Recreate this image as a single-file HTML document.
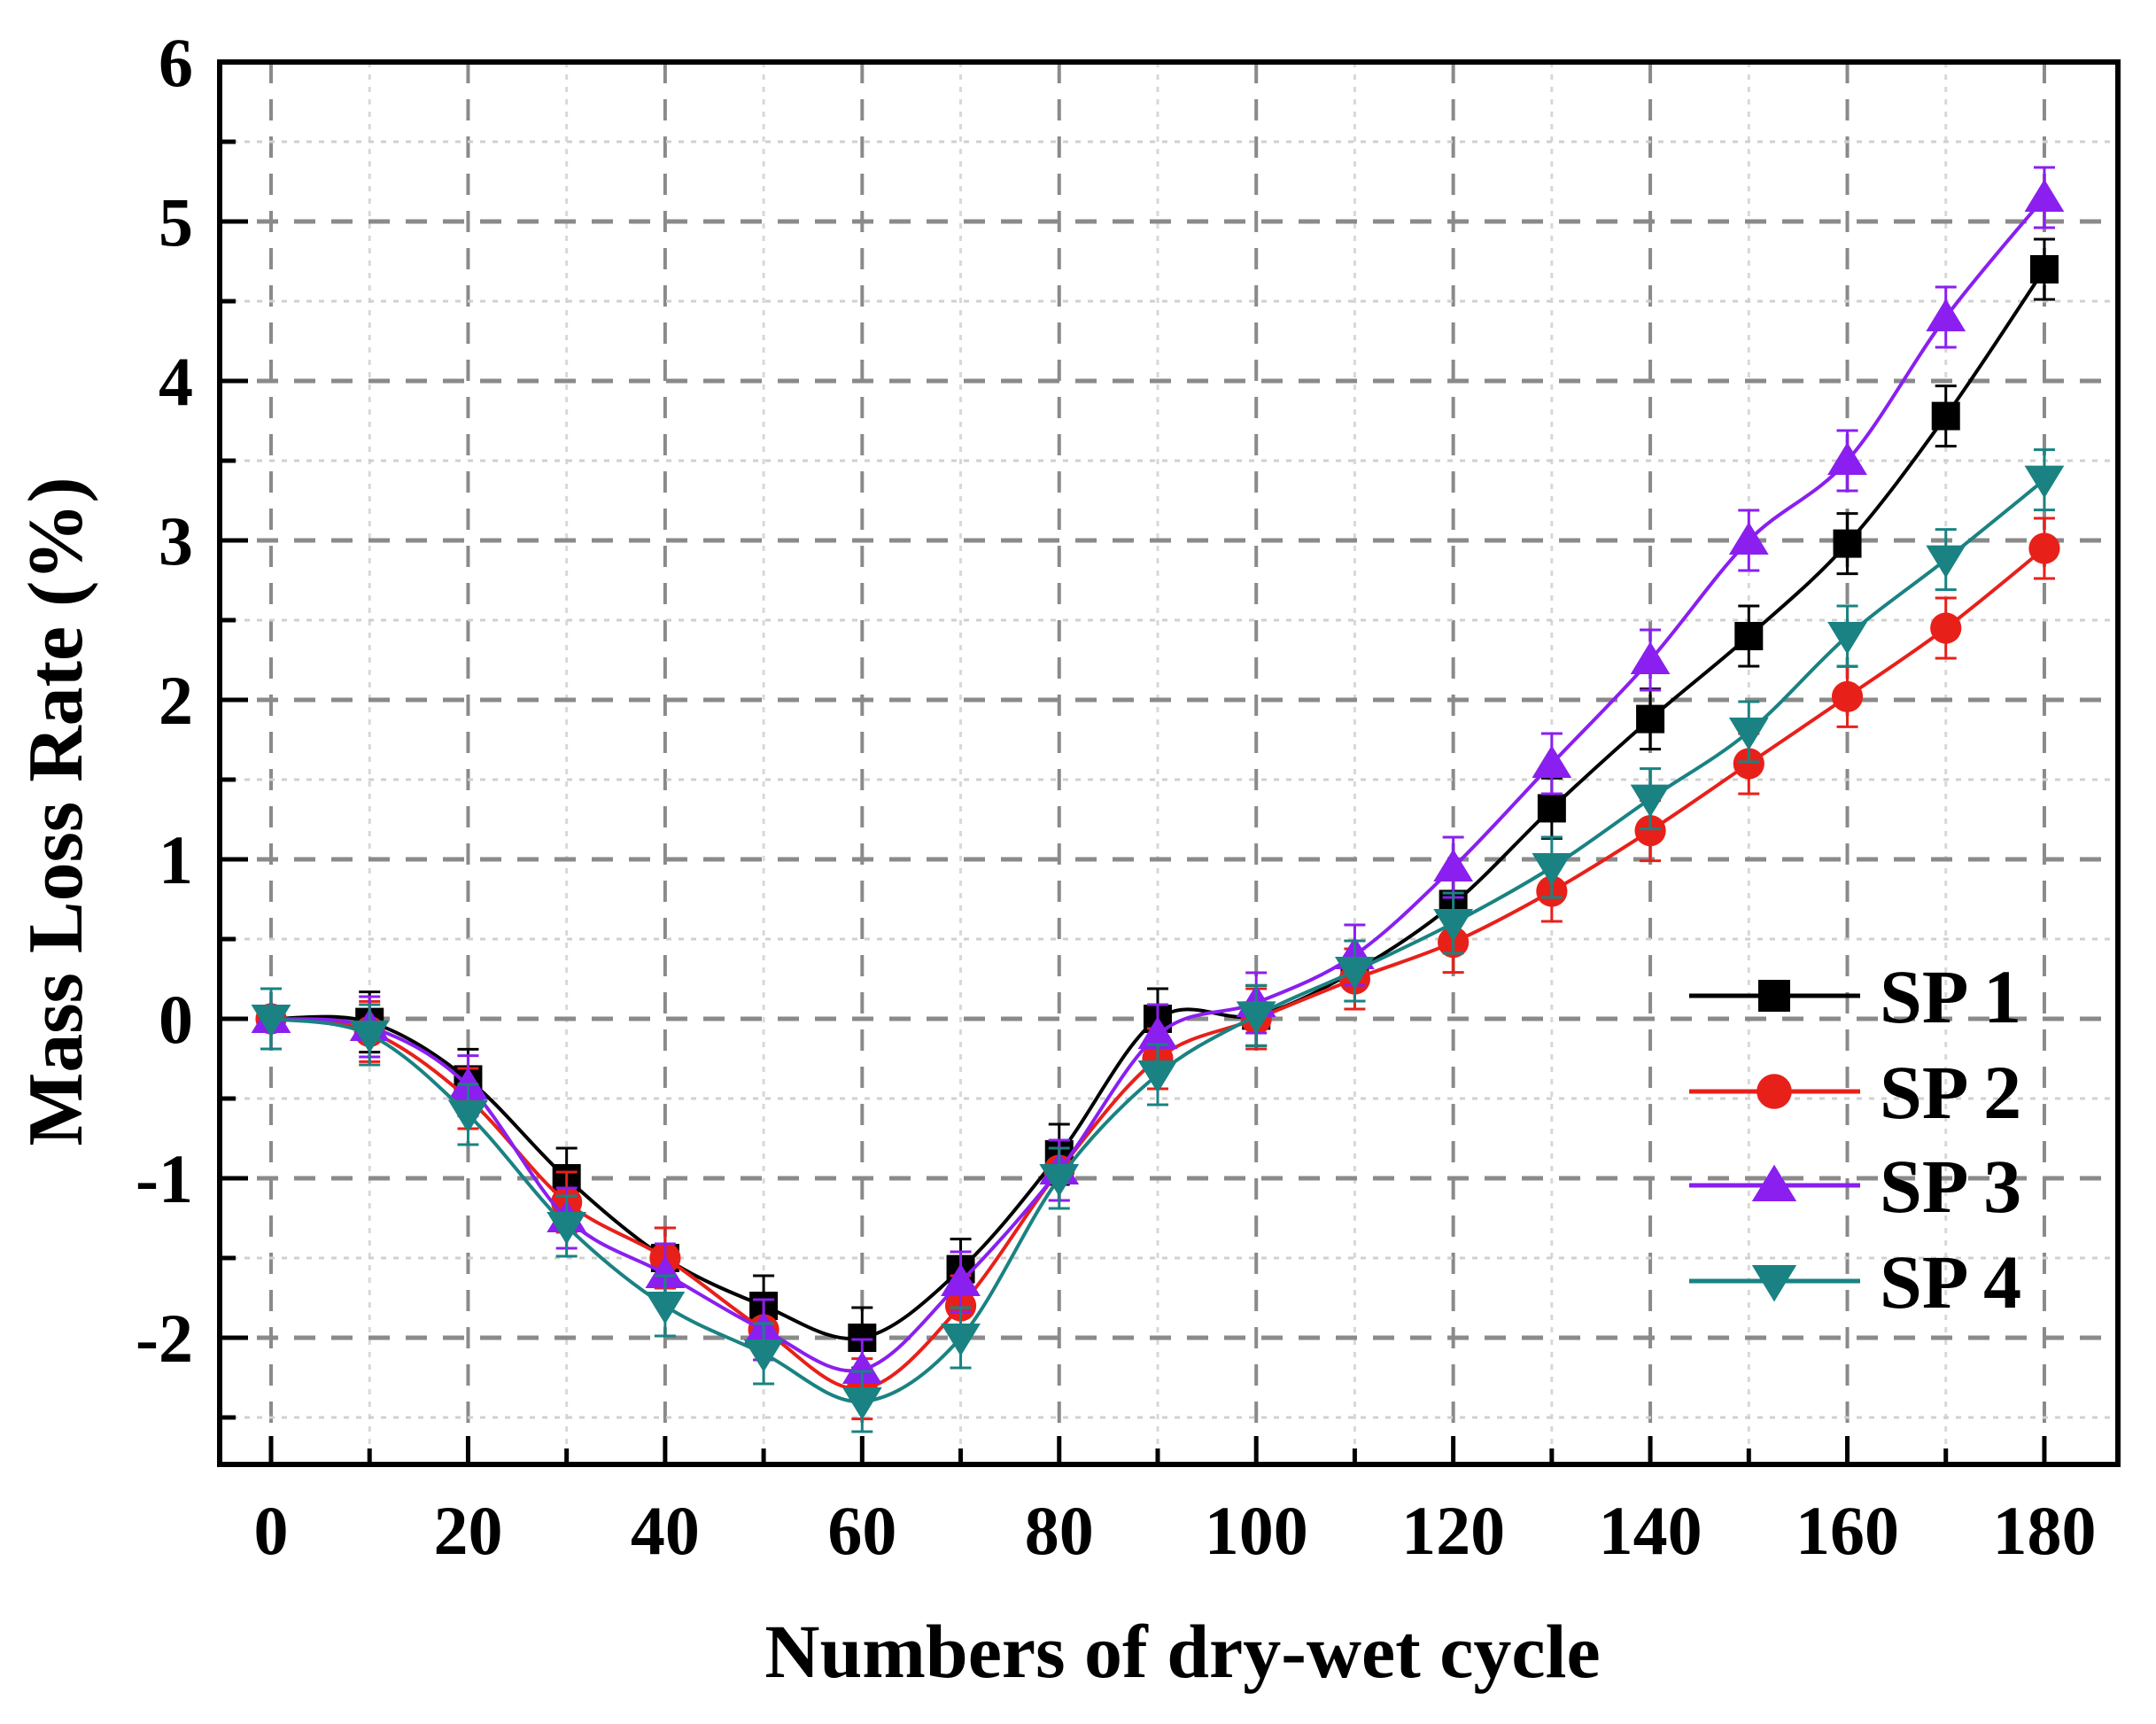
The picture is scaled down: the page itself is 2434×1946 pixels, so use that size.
<!DOCTYPE html>
<html><head><meta charset="utf-8"><style>
html,body{margin:0;padding:0;background:#fff;}
svg{display:block;}
text{font-family:"Liberation Serif",serif;font-weight:bold;fill:#000;}
</style></head><body>
<svg id="s" width="2434" height="1946" viewBox="0 0 2434 1946" xmlns="http://www.w3.org/2000/svg">
<rect width="2434" height="1946" fill="#fff"/>
<g id="grid"></g>
<g id="series"></g>
<rect x="248" y="70" width="2143" height="1583" fill="none" stroke="#000" stroke-width="6"/>
<g id="ticks"></g>
<g id="labels" font-size="78"></g>
<text x="1335" y="1893" font-size="86" text-anchor="middle">Numbers of dry-wet cycle</text>
<text transform="translate(92,916) rotate(-90)" font-size="88" text-anchor="middle">Mass Loss Rate (%)</text>
<g id="legend"></g>
</svg>
<script>
var NS="http://www.w3.org/2000/svg";
function el(p,t,a,txt){var e=document.createElementNS(NS,t);for(var k in a)e.setAttribute(k,a[k]);if(txt!=null)e.textContent=txt;p.appendChild(e);return e;}
var L=248,R=2391,T=70,B=1653;
function X(v){return 306+v*11.122;}
function Y(v){return 1150-v*180;}
var g=document.getElementById('grid');
for(var v=0;v<=180;v+=10){var maj=v%20==0;el(g,'line',{x1:X(v),x2:X(v),y1:T,y2:B,stroke:maj?'#8a8a8a':'#d8d8d8','stroke-width':maj?4:3,'stroke-dasharray':maj?'24,18':'6,8'});}
for(var y=-2.5;y<=5.5;y+=0.5){var maj=Math.abs(y-Math.round(y))<1e-6;el(g,'line',{x1:L,x2:R,y1:Y(y),y2:Y(y),stroke:maj?'#8a8a8a':'#d0d0d0','stroke-width':maj?5:3,'stroke-dasharray':maj?'24,18':'6,8'});}
var tk=document.getElementById('ticks'),lb=document.getElementById('labels');
for(var v=0;v<=180;v+=10){var maj=v%20==0;el(tk,'line',{x1:X(v),x2:X(v),y1:B,y2:B-(maj?32:18),stroke:'#000','stroke-width':5});
 if(maj)el(lb,'text',{x:X(v),y:1754,'text-anchor':'middle'},String(v));}
for(var y=-2.5;y<=5.5;y+=0.5){var maj=Math.abs(y-Math.round(y))<1e-6;el(tk,'line',{x1:L,x2:L+(maj?32:18),y1:Y(y),y2:Y(y),stroke:'#000','stroke-width':5});
 if(maj)el(lb,'text',{x:218,y:Y(y)+27,'text-anchor':'end'},String(y));}
el(lb,'text',{x:218,y:Y(6)+27,'text-anchor':'end'},'6');
var data=[
{c:'#000000',m:'sq',d:[0,-0.02,-0.38,-1.0,-1.5,-1.8,-2.0,-1.57,-0.85,0,0.02,0.3,0.72,1.32,1.88,2.4,2.98,3.78,4.7]},
{c:'#e8201a',m:'ci',d:[0,-0.08,-0.5,-1.15,-1.5,-1.95,-2.32,-1.8,-0.95,-0.25,0,0.25,0.48,0.8,1.18,1.6,2.02,2.45,2.95]},
{c:'#8a1ff0',m:'up',d:[0,-0.05,-0.42,-1.25,-1.6,-1.95,-2.2,-1.65,-0.95,-0.1,0.1,0.4,0.95,1.6,2.25,3.0,3.5,4.4,5.15]},
{c:'#1a8282',m:'dn',d:[0,-0.1,-0.6,-1.3,-1.8,-2.1,-2.4,-2.0,-1.0,-0.35,0.02,0.3,0.6,0.95,1.38,1.8,2.4,2.88,3.38]}];
function marker(p,m,x,y,c,s){
 if(m=='sq')el(p,'rect',{x:x-s/2,y:y-s/2,width:s,height:s,fill:c});
 else if(m=='ci')el(p,'circle',{cx:x,cy:y,r:s*0.55,fill:c});
 else if(m=='up')el(p,'polygon',{points:(x)+','+(y-s*0.65)+' '+(x-s*0.7)+','+(y+s*0.5)+' '+(x+s*0.7)+','+(y+s*0.5),fill:c});
 else el(p,'polygon',{points:(x)+','+(y+s*0.65)+' '+(x-s*0.7)+','+(y-s*0.5)+' '+(x+s*0.7)+','+(y-s*0.5),fill:c});}
var sg=document.getElementById('series');
data.forEach(function(s){
 var P=s.d.map(function(v,i){return [X(i*10),Y(v)];});
 var d='M'+P[0][0]+','+P[0][1];
 for(var i=0;i<P.length-1;i++){var p0=P[Math.max(i-1,0)],p1=P[i],p2=P[i+1],p3=P[Math.min(i+2,P.length-1)];
  d+=' C'+(p1[0]+(p2[0]-p0[0])/6)+','+(p1[1]+(p2[1]-p0[1])/6)+' '+(p2[0]-(p3[0]-p1[0])/6)+','+(p2[1]-(p3[1]-p1[1])/6)+' '+p2[0]+','+p2[1];}
 el(sg,'path',{d:d,fill:'none',stroke:s.c,'stroke-width':4});
 P.forEach(function(p){var e=34;el(sg,'line',{x1:p[0],x2:p[0],y1:p[1]-e,y2:p[1]+e,stroke:s.c,'stroke-width':3});
  el(sg,'line',{x1:p[0]-12,x2:p[0]+12,y1:p[1]-e,y2:p[1]-e,stroke:s.c,'stroke-width':3});
  el(sg,'line',{x1:p[0]-12,x2:p[0]+12,y1:p[1]+e,y2:p[1]+e,stroke:s.c,'stroke-width':3});});
 P.forEach(function(p){marker(sg,s.m,p[0],p[1],s.c,32);});
});
var lg=document.getElementById('legend');
var ry=[1124,1232,1338,1446];
data.forEach(function(s,i){el(lg,'line',{x1:1907,x2:2100,y1:ry[i],y2:ry[i],stroke:s.c,'stroke-width':5});
 marker(lg,s.m,2003,ry[i],s.c,36);
 el(lg,'text',{x:2122,y:ry[i]+30,'font-size':86},'SP '+(i+1));});
</script>
</body></html>
